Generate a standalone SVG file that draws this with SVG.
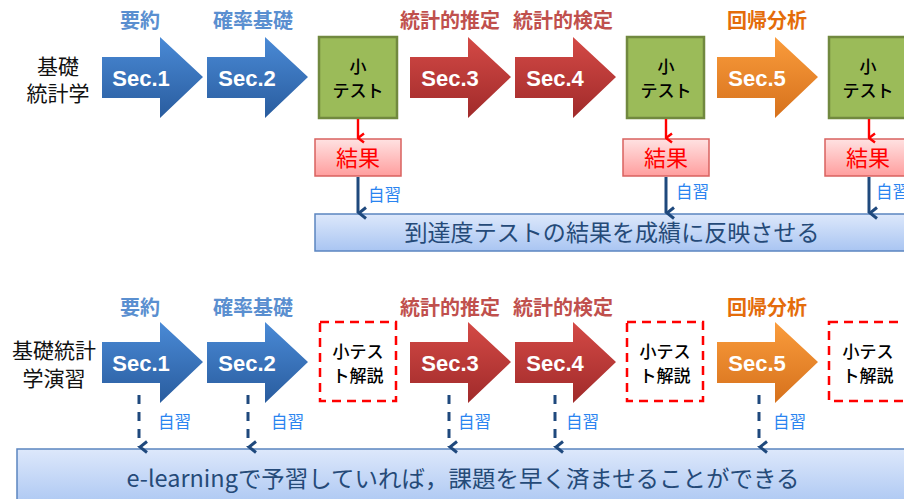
<svg xmlns="http://www.w3.org/2000/svg" width="904" height="499" viewBox="0 0 904 499">
<defs>
<linearGradient id="gBlue" x1="0" y1="0" x2="0" y2="1"><stop offset="0" stop-color="#4A8AD6"/><stop offset="1" stop-color="#295C9E"/></linearGradient>
<linearGradient id="gRed" x1="0" y1="0" x2="0" y2="1"><stop offset="0" stop-color="#D44A46"/><stop offset="1" stop-color="#A02A2A"/></linearGradient>
<linearGradient id="gOrange" x1="0" y1="0" x2="0" y2="1"><stop offset="0" stop-color="#FA9C3C"/><stop offset="1" stop-color="#D6711C"/></linearGradient>
<linearGradient id="gPink" x1="0" y1="0" x2="0" y2="1"><stop offset="0" stop-color="#FFE2E2"/><stop offset="1" stop-color="#FF9E9E"/></linearGradient>
<linearGradient id="gBar" x1="0" y1="0" x2="0" y2="1"><stop offset="0" stop-color="#DDE8FB"/><stop offset="1" stop-color="#A9C5F2"/></linearGradient>
<path id="arr" d="M0,-20 H58 V-40 L101,0 L58,41 V21 H0 Z"/>
<marker id="mRed" viewBox="0 0 12 10" refX="6" refY="9" markerWidth="12" markerHeight="10" markerUnits="userSpaceOnUse" orient="auto-start-reverse">
<polyline points="1.5,3 6,9 10.5,3" fill="none" stroke="#FF0000" stroke-width="2.4"/></marker>
<marker id="mBlue" viewBox="0 0 14 12" refX="7" refY="11" markerWidth="14" markerHeight="12" markerUnits="userSpaceOnUse" orient="auto-start-reverse">
<polyline points="1.5,3 7,10 12.5,3" fill="none" stroke="#1F497D" stroke-width="3"/></marker>
</defs>
<style>
text{font-family:"Noto Sans CJK JP","Noto Sans",sans-serif;}
.sec{font-family:"Liberation Sans",Arial,sans-serif;font-weight:bold;font-size:22px;fill:#FFFFFF;text-anchor:middle;}
.lb{font-size:20px;font-weight:bold;text-anchor:middle;}
.lblue{fill:#5A8FD0;}
.lred{fill:#C0504D;}
.lorange{fill:#E46C0A;}
.side{font-size:21px;fill:#111;text-anchor:middle;}
.green{fill:#9BBB59;stroke:#71893F;stroke-width:2.5;}
.gt{font-size:17px;fill:#000;text-anchor:middle;font-weight:500;}
.res{fill:url(#gPink);stroke:#D9625F;stroke-width:1.5;}
.rt{font-size:22px;fill:#FF0000;text-anchor:middle;}
.dash{fill:none;stroke:#FF0000;stroke-width:2.5;stroke-dasharray:9,6;}
.self{font-size:16.5px;fill:#2A84F0;}
.bar{fill:url(#gBar);stroke:#5B85C0;stroke-width:1.5;}
.bt{font-size:23px;fill:#254A78;text-anchor:middle;}
.cr{stroke:#FF0000;stroke-width:2.4;fill:none;marker-end:url(#mRed);}
.cb{stroke:#1F497D;stroke-width:3;fill:none;marker-end:url(#mBlue);}
.cd{stroke:#1F497D;stroke-width:3;fill:none;stroke-dasharray:9,8;marker-end:url(#mBlue);}
</style>
<rect width="904" height="499" fill="#FFFFFF"/>

<!-- Top row -->
<g id="side-top"><text class="side" x="58" y="74">基礎</text><text class="side" x="58" y="101">統計学</text></g>
<g id="t-sec1"><text class="lb lblue" x="140" y="28">要約</text><use href="#arr" x="102" y="77" fill="url(#gBlue)"/><text class="sec" x="141" y="86">Sec.1</text></g>
<g id="t-sec2"><text class="lb lblue" x="253" y="28">確率基礎</text><use href="#arr" x="207" y="77" fill="url(#gBlue)"/><text class="sec" x="247" y="86">Sec.2</text></g>
<g id="t-quiz1"><rect class="green" x="319" y="37" width="78" height="81"/><text class="gt" x="358" y="73">小</text><text class="gt" x="358" y="97">テスト</text></g>
<g id="t-sec3"><text class="lb lred" x="450" y="28">統計的推定</text><use href="#arr" x="410" y="77" fill="url(#gRed)"/><text class="sec" x="450" y="86">Sec.3</text></g>
<g id="t-sec4"><text class="lb lred" x="563" y="28">統計的検定</text><use href="#arr" x="515" y="77" fill="url(#gRed)"/><text class="sec" x="555" y="86">Sec.4</text></g>
<g id="t-quiz2"><rect class="green" x="627" y="37" width="77" height="81"/><text class="gt" x="666" y="73">小</text><text class="gt" x="666" y="97">テスト</text></g>
<g id="t-sec5"><text class="lb lorange" x="767" y="28">回帰分析</text><use href="#arr" x="717" y="77" fill="url(#gOrange)"/><text class="sec" x="757" y="86">Sec.5</text></g>
<g id="t-quiz3"><rect class="green" x="829" y="37" width="78" height="81"/><text class="gt" x="868" y="73">小</text><text class="gt" x="868" y="97">テスト</text></g>
<g id="t-res1"><rect class="res" x="315" y="139" width="86" height="37"/><text class="rt" x="358" y="166">結果</text></g>
<g id="t-res2"><rect class="res" x="623" y="139" width="86" height="37"/><text class="rt" x="666" y="166">結果</text></g>
<g id="t-res3"><rect class="res" x="825" y="139" width="86" height="37"/><text class="rt" x="868" y="166">結果</text></g>
<g id="t-bar"><rect class="bar" x="315" y="214" width="600" height="37"/><text class="bt" x="612" y="241" textLength="415" lengthAdjust="spacingAndGlyphs">到達度テストの結果を成績に反映させる</text></g>

<!-- Bottom row -->
<g id="side-bot"><text class="side" x="54" y="358">基礎統計</text><text class="side" x="54" y="386">学演習</text></g>
<g id="b-sec1"><text class="lb lblue" x="140" y="315">要約</text><use href="#arr" x="102" y="362" fill="url(#gBlue)"/><text class="sec" x="141" y="371">Sec.1</text></g>
<g id="b-sec2"><text class="lb lblue" x="253" y="315">確率基礎</text><use href="#arr" x="207" y="362" fill="url(#gBlue)"/><text class="sec" x="247" y="371">Sec.2</text></g>
<g id="b-quiz1"><rect class="dash" x="320" y="322" width="76" height="79"/><text class="gt" x="358" y="358">小テス</text><text class="gt" x="358" y="382">ト解説</text></g>
<g id="b-sec3"><text class="lb lred" x="450" y="315">統計的推定</text><use href="#arr" x="410" y="362" fill="url(#gRed)"/><text class="sec" x="450" y="371">Sec.3</text></g>
<g id="b-sec4"><text class="lb lred" x="563" y="315">統計的検定</text><use href="#arr" x="515" y="362" fill="url(#gRed)"/><text class="sec" x="555" y="371">Sec.4</text></g>
<g id="b-quiz2"><rect class="dash" x="627" y="322" width="76" height="79"/><text class="gt" x="665" y="358">小テス</text><text class="gt" x="665" y="382">ト解説</text></g>
<g id="b-sec5"><text class="lb lorange" x="767" y="315">回帰分析</text><use href="#arr" x="717" y="362" fill="url(#gOrange)"/><text class="sec" x="757" y="371">Sec.5</text></g>
<g id="b-quiz3"><rect class="dash" x="829" y="322" width="80" height="79"/><text class="gt" x="868" y="358">小テス</text><text class="gt" x="868" y="382">ト解説</text></g>
<g id="b-bar"><rect class="bar" x="17" y="449" width="900" height="60"/><text class="bt" x="463" y="487" textLength="673" lengthAdjust="spacingAndGlyphs">e-learningで予習していれば，課題を早く済ませることができる</text></g>

<!-- Connectors -->
<g id="connectors">
<line class="cr" x1="358" y1="119" x2="358" y2="138"/>
<line class="cr" x1="666" y1="119" x2="666" y2="138"/>
<line class="cr" x1="869" y1="119" x2="869" y2="138"/>
<line class="cb" x1="358" y1="177" x2="358" y2="213"/>
<line class="cb" x1="666" y1="177" x2="666" y2="213"/>
<line class="cb" x1="869" y1="177" x2="869" y2="213"/>
<text class="self" x="368" y="201">自習</text>
<text class="self" x="676" y="198">自習</text>
<text class="self" x="876" y="198">自習</text>
<line class="cd" x1="139" y1="395" x2="139" y2="447"/>
<line class="cd" x1="248" y1="395" x2="248" y2="447"/>
<line class="cd" x1="449" y1="395" x2="449" y2="447"/>
<line class="cd" x1="555" y1="395" x2="555" y2="447"/>
<line class="cd" x1="759" y1="395" x2="759" y2="447"/>
<text class="self" x="158" y="428">自習</text>
<text class="self" x="271" y="428">自習</text>
<text class="self" x="458" y="428">自習</text>
<text class="self" x="566" y="428">自習</text>
<text class="self" x="773" y="428">自習</text>
</g>
</svg>
